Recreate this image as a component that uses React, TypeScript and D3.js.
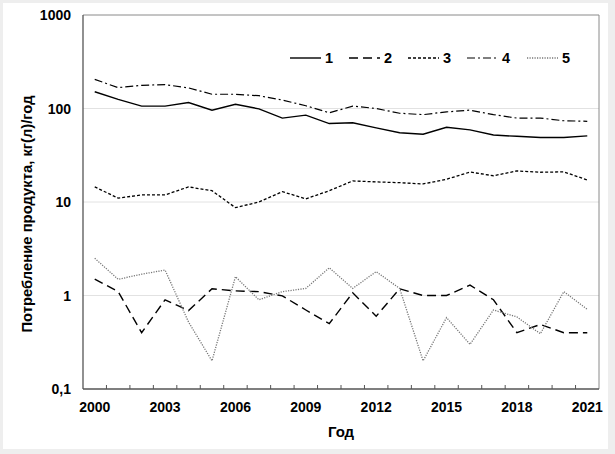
import React from "react";
import * as d3 from "d3";

const years = d3.range(2000, 2022).map(String);
const tickYears = ["2000", "2003", "2006", "2009", "2012", "2015", "2018", "2021"];
const yTicks = [0.1, 1, 10, 100, 1000];
const yTickLabels = ["0,1", "1", "10", "100", "1000"];

const s1 = [151, 125, 106, 106, 116, 96, 111, 99, 79, 85, 69, 70.5, 62, 55, 53, 63, 59, 52, 50.4, 49, 49, 51];
const s2 = [1.5, 1.1, 0.4, 0.9, 0.69, 1.18, 1.12, 1.1, 0.99, 0.7, 0.5, 1.07, 0.6, 1.18, 1.0, 1.0, 1.29, 0.9, 0.4, 0.49, 0.4, 0.4];
const s3 = [14.5, 11, 11.9, 11.9, 14.5, 13.2, 8.7, 10, 12.9, 10.8, 13.2, 16.8, 16.4, 16.1, 15.6, 17.5, 20.9, 19.1, 21.5, 20.8, 21, 17.2];
const s4 = [205, 167, 177, 180, 166, 142, 142, 137, 123, 107, 90, 106, 100, 89, 86, 92, 96, 86, 79, 79, 74, 73];
const s5 = [2.5, 1.49, 1.69, 1.87, 0.52, 0.2, 1.59, 0.9, 1.1, 1.19, 1.98, 1.19, 1.8, 1.19, 0.2, 0.58, 0.3, 0.7, 0.59, 0.39, 1.1, 0.71];
const seriesNames = ["1", "2", "3", "4", "5"];

const W = 615, H = 454;
const L = 83, R = 599, T = 15, B = 389;
const FONT = "'Liberation Sans', Arial, sans-serif";

const styles = [
  { color: "#000", dash: "none", w: 1.4 },
  { color: "#000", dash: "9,5", w: 1.4 },
  { color: "#000", dash: "3,2", w: 1.3 },
  { color: "#000", dash: "8,3,2,3", w: 1.2 },
  { color: "#777", dash: "1.2,1.3", w: 1.3 },
];

export default function App() {
  const x = d3.scaleBand<string>().domain(years).range([L, R]);
  const y = d3.scaleLog().domain([0.1, 1000]).range([B, T]);
  const data = [s1, s2, s3, s4, s5];
  const line = d3
    .line<number>()
    .x((_, i) => (x(years[i]) as number) + x.bandwidth() / 2)
    .y((d) => y(d));
  const legendX = [290, 349, 408, 467, 527];
  const legendY = 58;
  return (
    <svg
      width={W}
      height={H}
      style={{ position: "absolute", left: 0, top: 0, fontFamily: FONT }}
    >
      <rect x={0} y={0} width={W} height={H} fill="#eeeeee" />
      <rect x={3} y={3} width={605} height={446} fill="#ffffff" />
      {yTicks.slice(1, -1).map((t) => (
        <line key={t} x1={L} x2={R} y1={y(t)} y2={y(t)} stroke="#e2e2e2" strokeWidth={1} />
      ))}
      <line x1={L} x2={R} y1={T} y2={T} stroke="#8a8a8a" strokeWidth={1} />
      <line x1={R} x2={R} y1={T} y2={B} stroke="#8a8a8a" strokeWidth={1} />
      {years.map((yr, i) =>
        i === 0 ? null : (
          <line key={yr} x1={x(yr)} x2={x(yr)} y1={B - 4} y2={B} stroke="#555" strokeWidth={1} />
        )
      )}
      {data.map((d, i) => (
        <path
          key={i}
          d={line(d) || ""}
          fill="none"
          stroke={styles[i].color}
          strokeWidth={styles[i].w}
          strokeDasharray={styles[i].dash}
        />
      ))}
      <line x1={L} x2={L} y1={T} y2={B} stroke="#555" strokeWidth={1.3} />
      <line x1={L} x2={R} y1={B} y2={B} stroke="#555" strokeWidth={1.3} />
      {yTicks.map((t, i) => (
        <text
          key={t}
          x={71}
          y={y(t)}
          textAnchor="end"
          dominantBaseline="central"
          fontSize={14}
          fontWeight="bold"
        >
          {yTickLabels[i]}
        </text>
      ))}
      {tickYears.map((t) => (
        <text
          key={t}
          x={(x(t) as number) + x.bandwidth() / 2}
          y={407}
          textAnchor="middle"
          dominantBaseline="central"
          fontSize={14}
          fontWeight="bold"
        >
          {t}
        </text>
      ))}
      <text x={341} y={431} textAnchor="middle" dominantBaseline="central" fontSize={15} fontWeight="bold">
        Год
      </text>
      <text
        transform={`translate(27,214) rotate(-90)`}
        textAnchor="middle"
        dominantBaseline="central"
        fontSize={14.8}
        fontWeight="bold"
      >
        Потребление продукта, кг(л)/год
      </text>
      {seriesNames.map((n, i) => (
        <g key={n}>
          <line
            x1={legendX[i]}
            x2={legendX[i] + 31}
            y1={legendY}
            y2={legendY}
            stroke={styles[i].color}
            strokeWidth={styles[i].w}
            strokeDasharray={styles[i].dash}
          />
          <text
            x={legendX[i] + 35}
            y={legendY}
            dominantBaseline="central"
            fontSize={14.5}
            fontWeight="bold"
          >
            {n}
          </text>
        </g>
      ))}
    </svg>
  );
}
